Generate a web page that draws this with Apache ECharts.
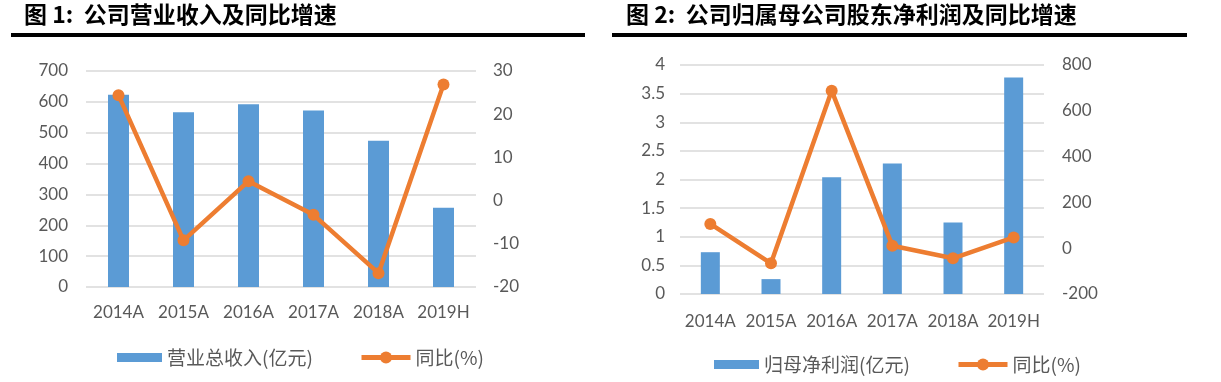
<!DOCTYPE html>
<html>
<head>
<meta charset="utf-8">
<script src="https://cdn.jsdelivr.net/npm/echarts@6/dist/echarts.min.js"></script>
<style>
html,body{margin:0;padding:0;background:#fff;}
#c{width:1221px;height:382px;}
</style>
</head>
<body>
<div id="c"></div>
<script>
// ---- data ----
const categories = ['2014A', '2015A', '2016A', '2017A', '2018A', '2019H'];
const revenue = [623, 566, 592, 572, 474, 257];          // 营业总收入(亿元)
const revenueYoY = [24.4, -9.2, 4.5, -3.3, -16.8, 26.9];  // 同比(%)
const netProfit = [0.73, 0.26, 2.04, 2.28, 1.25, 3.78];   // 归母净利润(亿元)
const netProfitYoY = [106, -66, 688, 11, -44, 47];        // 同比(%)

const title1 = '图 1:  公司营业收入及同比增速';
const title2 = '图 2:  公司归属母公司股东净利润及同比增速';
const barName1 = '营业总收入(亿元)';
const barName2 = '归母净利润(亿元)';
const lineName = '同比(%)';

// ---- styles ----
const BLUE = '#5B9BD5';
const ORANGE = '#ED7D31';
const GRAY = '#595959';
const GRID = '#D9D9D9';
const numFont = 'Lato';
const cjkFont = '"Noto Sans CJK SC"';

function yAxisLeft(gi, min, max, interval, margin) {
  return {
    type: 'value', gridIndex: gi, min: min, max: max, interval: interval,
    axisLine: {show: false}, axisTick: {show: false},
    axisLabel: {color: GRAY, fontFamily: numFont, fontSize: 17, margin: margin},
    splitLine: {lineStyle: {color: GRID, width: 1.5}}
  };
}
function yAxisRight(gi, min, max, interval, margin) {
  return {
    type: 'value', gridIndex: gi, position: 'right', min: min, max: max, interval: interval,
    axisLine: {show: false}, axisTick: {show: false},
    axisLabel: {color: GRAY, fontFamily: numFont, fontSize: 17, margin: margin},
    splitLine: {show: false}
  };
}
function xAxis(gi, margin) {
  return {
    type: 'category', gridIndex: gi, data: categories, boundaryGap: true,
    axisLine: {show: false}, axisTick: {show: false},
    axisLabel: {color: GRAY, fontFamily: numFont, fontSize: 17, margin: margin, interval: 0}
  };
}
function legendBar(name, left, top) {
  return {
    data: [name], left: left, top: top, padding: 0, itemWidth: 45, itemHeight: 9,
    icon: 'rect',
    textStyle: {color: GRAY, fontFamily: cjkFont, fontSize: 19}
  };
}
function legendLine(left, top) {
  return {
    data: [lineName], left: left, top: top, padding: 0, itemWidth: 49, itemHeight: 15,
    lineStyle: {width: 5},
    textStyle: {color: GRAY, fontFamily: cjkFont, fontSize: 19}
  };
}

const chart = echarts.init(document.getElementById('c'), null, {renderer: 'canvas'});
const option = {
  animation: false,
  backgroundColor: '#fff',
  title: [
    {text: title1, left: 24, top: 3, padding: 0,
     textStyle: {color: '#000', fontFamily: cjkFont, fontWeight: 'bold', fontSize: 23}},
    {text: title2, left: 626, top: 3, padding: 0,
     textStyle: {color: '#000', fontFamily: cjkFont, fontWeight: 'bold', fontSize: 23}}
  ],
  graphic: [
    {type: 'rect', shape: {x: 11, y: 33, width: 574, height: 4}, style: {fill: '#000'}, silent: true},
    {type: 'rect', shape: {x: 612, y: 33, width: 575, height: 4}, style: {fill: '#000'}, silent: true}
  ],
  grid: [
    {left: 86, top: 71, width: 390, height: 216},
    {left: 680, top: 65, width: 364, height: 229}
  ],
  xAxis: [xAxis(0, 17), xAxis(1, 19)],
  yAxis: [
    yAxisLeft(0, 0, 700, 100, 18),
    yAxisRight(0, -20, 30, 10, 17),
    yAxisLeft(1, 0, 4, 0.5, 15),
    yAxisRight(1, -200, 800, 200, 18)
  ],
  legend: [
    legendBar(barName1, 117, 348),
    legendLine(359, 348),
    legendBar(barName2, 714, 355),
    legendLine(956, 355)
  ],
  series: [
    {name: barName1, type: 'bar', xAxisIndex: 0, yAxisIndex: 0, data: revenue,
     barWidth: 21, itemStyle: {color: BLUE}},
    {name: lineName, type: 'line', xAxisIndex: 0, yAxisIndex: 1, data: revenueYoY,
     symbol: 'circle', symbolSize: 12, lineStyle: {color: ORANGE, width: 4.5},
     itemStyle: {color: ORANGE}, z: 3},
    {name: barName2, type: 'bar', xAxisIndex: 1, yAxisIndex: 2, data: netProfit,
     barWidth: 19, itemStyle: {color: BLUE}},
    {name: lineName, type: 'line', xAxisIndex: 1, yAxisIndex: 3, data: netProfitYoY,
     symbol: 'circle', symbolSize: 12, lineStyle: {color: ORANGE, width: 4.5},
     itemStyle: {color: ORANGE}, z: 3}
  ]
};
chart.setOption(option);
</script>
</body>
</html>
